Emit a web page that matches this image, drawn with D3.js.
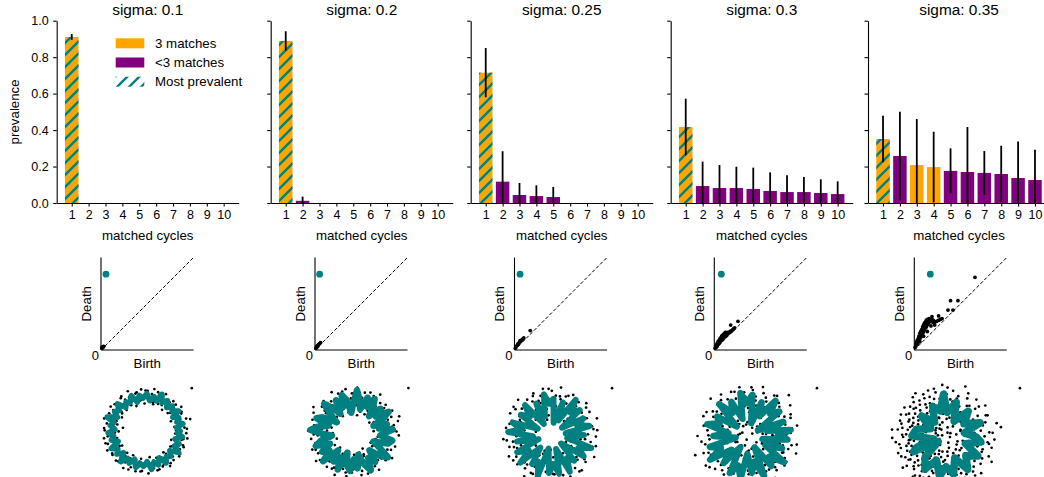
<!DOCTYPE html>
<html>
<head>
<meta charset="utf-8">
<script src="https://cdn.jsdelivr.net/npm/d3@7"></script>
<style>
  body { margin: 0; background: #fff; }
  text { font-family: "Liberation Sans", Arial, sans-serif; fill: #000; }
</style>
</head>
<body>
<div id="chart"></div>
<script>
const sigmas = ["0.1", "0.2", "0.25", "0.3", "0.35"];
const cycles = [1, 2, 3, 4, 5, 6, 7, 8, 9, 10];
const prevalence = [
  [0.911, 0, 0, 0, 0, 0, 0, 0, 0, 0],
  [0.889, 0.012, 0, 0, 0, 0, 0, 0, 0, 0],
  [0.715, 0.117, 0.044, 0.038, 0.033, 0, 0, 0, 0, 0],
  [0.417, 0.093, 0.082, 0.082, 0.077, 0.066, 0.060, 0.060, 0.055, 0.049],
  [0.351, 0.258, 0.208, 0.197, 0.176, 0.170, 0.165, 0.159, 0.137, 0.126]
];
const spread = [
  [0.016, 0, 0, 0, 0, 0, 0, 0, 0, 0],
  [0.053, 0.023, 0, 0, 0, 0, 0, 0, 0, 0],
  [0.135, 0.167, 0.066, 0.059, 0.055, 0, 0, 0, 0, 0],
  [0.155, 0.134, 0.126, 0.117, 0.117, 0.102, 0.092, 0.083, 0.075, 0.070],
  [0.128, 0.243, 0.253, 0.194, 0.124, 0.247, 0.120, 0.155, 0.201, 0.166]
];
const threeMatch = [[1], [1], [1], [1], [1, 3, 4]];
const mostPrevalent = [1, 1, 1, 1, 1];
const yTicks = [0, 0.2, 0.4, 0.6, 0.8, 1.0];
const legendItems = ["3 matches", "<3 matches", "Most prevalent"];

// persistence diagrams: [birth, death] as a fraction of the axis
const diagTop = [[0.054, 0.82], [0.05, 0.82], [0.06, 0.82], [0.076, 0.82], [0.173, 0.82]];
const diagPts = [
  [[0.01,0.02],[0.02,0.03],[0.015,0.025],[0.025,0.035],[0.03,0.04],[0.01,0.03]],
  [[0.01,0.02],[0.02,0.03],[0.03,0.05],[0.04,0.06],[0.05,0.07],[0.02,0.04],[0.06,0.08],[0.03,0.04]],
  [[0.01,0.02],[0.02,0.04],[0.03,0.05],[0.04,0.06],[0.05,0.08],[0.06,0.09],[0.07,0.1],[0.08,0.11],
   [0.09,0.12],[0.1,0.13],[0.04,0.07],[0.06,0.1],[0.17,0.21]],
  [[0.01,0.02],[0.02,0.03],[0.02,0.05],[0.03,0.04],[0.03,0.07],[0.04,0.06],[0.04,0.09],[0.05,0.07],
   [0.05,0.1],[0.06,0.08],[0.06,0.12],[0.07,0.1],[0.07,0.13],[0.08,0.11],[0.08,0.15],[0.09,0.12],
   [0.09,0.16],[0.1,0.13],[0.1,0.17],[0.11,0.14],[0.11,0.18],[0.12,0.15],[0.12,0.19],[0.13,0.16],
   [0.14,0.17],[0.14,0.19],[0.15,0.18],[0.16,0.19],[0.17,0.2],[0.18,0.2],[0.19,0.21],[0.2,0.22],
   [0.21,0.23],[0.22,0.24],[0.06,0.1],[0.08,0.13],[0.13,0.18],[0.12,0.17],[0.177,0.27],[0.256,0.31]],
  [[0.01,0.03],[0.02,0.05],[0.02,0.08],[0.03,0.06],[0.03,0.1],[0.04,0.08],[0.04,0.12],[0.05,0.1],
   [0.05,0.15],[0.06,0.12],[0.06,0.18],[0.07,0.14],[0.07,0.2],[0.08,0.16],[0.08,0.22],[0.09,0.18],
   [0.09,0.25],[0.1,0.2],[0.1,0.27],[0.11,0.22],[0.11,0.29],[0.12,0.24],[0.12,0.3],[0.13,0.25],
   [0.13,0.32],[0.14,0.27],[0.14,0.33],[0.15,0.28],[0.16,0.3],[0.16,0.34],[0.17,0.31],[0.18,0.32],
   [0.19,0.33],[0.2,0.3],[0.21,0.31],[0.22,0.3],[0.24,0.31],[0.26,0.32],[0.28,0.33],[0.3,0.34],
   [0.1,0.15],[0.14,0.2],[0.18,0.26],[0.22,0.27],[0.06,0.09],
   [0.656,0.786],[0.392,0.533],[0.472,0.533],[0.364,0.432],[0.418,0.432],[0.263,0.368],[0.191,0.36],[0.206,0.321]]
];

// sampled point clouds, polar [angle in degrees, radius]
const cloudPts = [
  [[3,1.22],[8,0.86],[12,1.1],[15,1.36],[17,1.25],[21,0.8],[26,1.17],[30,0.93],[34,1.27],[39,0.84],[43,1.12],
   [47,1.2],[52,0.79],[56,1.05],[61,1.24],[65,0.88],[69,1.15],[74,0.82],[78,1.26],[83,0.95],[87,1.18],
   [92,0.81],[96,1.23],[101,0.9],[105,1.14],[110,0.78],[114,1.28],[119,0.87],[123,1.1],[127,1.21],
   [132,0.83],[136,1.16],[141,0.91],[145,1.25],[150,0.8],[154,1.19],[158,0.97],[163,1.27],[167,0.85],
   [172,0.67],[176,1.22],[181,0.79],[185,1.08],[190,1.24],[194,0.86],[199,1.17],[203,0.92],[207,1.26],
   [212,0.81],[216,1.2],[221,0.96],[225,1.23],[230,0.84],[234,1.11],[239,1.27],[243,0.8],[248,1.15],
   [252,0.89],[256,1.22],[261,0.83],[265,1.18],[270,0.94],[274,1.25],[279,0.78],[283,1.12],[287,1.21],
   [292,0.85],[296,1.16],[301,0.9],[305,1.26],[310,0.82],[314,1.19],[319,0.98],[323,1.24],[328,0.86],
   [332,1.14],[337,1.22],[341,0.8],[346,1.09],[350,1.25],[355,0.88],
   [1,0.9],[5,1.15],[10,1.0],[19,1.08],[24,0.88],[28,1.2],[33,1.02],[36,0.9],[41,1.18],[45,0.95],[50,1.1],
   [58,0.9],[63,1.14],[67,1.0],[72,1.2],[76,0.87],[80,1.1],[85,1.02],[90,1.19],[98,0.92],[103,1.17],
   [108,1.0],[116,1.1],[121,0.92],[125,1.24],[134,1.0],[139,1.2],[143,0.86],[147,1.13],[152,0.95],
   [156,1.1],[161,0.9],[169,1.16],[174,0.98],[179,1.2],[183,0.9],[188,1.12],[192,1.0],[197,1.23],
   [201,0.95],[205,1.1],[210,0.88],[214,1.18],[219,1.0],[223,0.9],[228,1.2],[232,0.95],[237,1.1],
   [241,0.92],[246,1.24],[250,1.0],[254,1.1],[259,0.92],[263,1.2],[268,1.0],[272,0.88],[277,1.15],
   [281,1.0],[285,0.9],[290,1.2],[294,1.0],[299,1.12],[303,0.95],[308,1.2],[312,0.9],[317,1.1],
   [321,1.0],[326,1.22],[330,0.9],[335,1.06],[339,1.18],[344,0.92],[348,1.14],[353,1.0],[357,1.2]],
  [[2,1.31],[5,0.62],[9,1.18],[13,0.95],[15,1.4],[19,0.7],[23,1.25],[26,0.85],[30,1.36],[33,0.58],[37,1.12],
   [41,1.3],[44,0.75],[48,1.22],[52,0.9],[55,1.42],[59,0.66],[63,1.15],[67,1.33],[70,0.8],[74,1.27],
   [78,0.55],[81,1.05],[85,1.38],[89,0.72],[92,1.2],[96,0.93],[100,1.35],[103,0.64],[107,1.1],[111,1.28],
   [114,0.78],[118,1.4],[122,0.6],[125,1.17],[129,0.88],[133,1.32],[136,0.7],[140,1.24],[144,1.02],
   [147,1.44],[151,0.57],[155,1.14],[158,0.83],[162,1.3],[166,0.68],[169,1.21],[173,0.96],[177,1.37],
   [180,0.62],[184,1.08],[188,1.29],[191,0.76],[195,1.19],[199,0.53],[202,1.34],[206,0.86],[210,1.23],
   [213,0.67],[217,1.41],[221,0.92],[224,1.16],[228,0.6],[232,1.3],[235,0.8],[239,1.26],[243,0.71],
   [246,1.39],[250,0.98],[254,1.13],[257,0.58],[261,1.33],[265,0.84],[268,1.2],[272,0.66],[276,1.43],
   [279,0.9],[283,1.18],[287,0.62],[290,1.31],[294,0.77],[298,1.24],[301,0.55],[305,1.36],[309,0.88],
   [312,1.11],[316,0.69],[320,1.28],[323,0.97],[327,1.4],[331,0.6],[334,1.15],[338,0.82],[342,1.33],
   [345,0.7],[349,1.22],[353,0.94],[357,1.38],[250,1.5],[20,1.48],
   [1,1.05],[7,0.75],[11,1.25],[17,0.9],[21,1.12],[28,0.7],[32,1.0],[39,1.2],[43,0.88],[50,1.05],[57,0.8],
   [61,1.28],[65,0.95],[72,0.68],[76,1.1],[83,0.85],[87,1.22],[94,1.05],[98,0.78],[105,1.3],[109,0.92],
   [116,1.15],[120,0.72],[127,1.05],[131,1.2],[138,0.82],[142,1.1],[149,0.95],[153,1.35],[160,0.74],
   [164,1.05],[171,1.15],[175,0.8],[182,1.2],[186,0.95],[193,0.7],[197,1.08],[204,1.25],[208,0.82],
   [215,1.0],[219,1.3],[226,0.75],[230,1.12],[237,0.9],[241,1.2],[248,0.68],[252,1.05],[259,1.22],
   [263,0.88],[270,1.1],[274,0.76],[281,1.3],[285,0.95],[292,1.05],[296,0.72],[303,1.2],[307,1.0],
   [314,0.85],[318,1.15],[325,0.7],[329,1.05],[336,1.25],[340,0.9],[347,1.1],[351,0.75],[358,1.0]],
  [[1,1.12],[4,0.68],[6,1.41],[9,0.9],[12,1.27],[14,0.55],[17,1.05],[20,1.48],[23,0.78],[25,1.2],[28,0.97],
   [31,1.36],[34,0.62],[36,1.15],[39,0.85],[42,1.44],[45,1.0],[47,0.58],[50,1.3],[53,0.92],[56,1.18],
   [58,0.7],[61,1.39],[64,1.06],[67,0.82],[69,1.25],[72,0.5],[75,1.12],[78,1.47],[80,0.88],[83,1.2],
   [86,0.66],[89,1.34],[91,0.98],[94,1.1],[97,0.6],[100,1.42],[102,0.84],[105,1.23],[108,1.02],[111,0.72],
   [113,1.37],[116,0.94],[119,1.16],[122,0.54],[124,1.29],[127,0.8],[130,1.07],[133,1.46],[135,0.65],
   [138,1.19],[141,0.9],[144,1.33],[146,0.74],[149,1.11],[152,1.4],[155,0.58],[157,0.99],[160,1.26],
   [163,0.83],[166,1.14],[168,0.47],[171,1.38],[174,0.93],[177,1.21],[179,0.69],[182,1.05],[185,1.45],
   [188,0.8],[190,1.17],[193,0.61],[196,1.31],[199,0.96],[201,1.1],[204,0.73],[207,1.43],[210,0.87],
   [212,1.24],[215,0.56],[218,1.03],[221,1.35],[223,0.79],[226,1.15],[229,0.64],[232,1.28],[234,0.95],
   [237,1.49],[240,0.71],[243,1.08],[245,1.3],[248,0.52],[251,0.91],[254,1.22],[256,1.4],[259,0.77],
   [262,1.13],[265,0.6],[267,1.32],[270,0.98],[273,1.18],[276,0.68],[278,1.45],[281,0.86],[284,1.06],
   [287,1.27],[289,0.57],[292,0.94],[295,1.39],[298,0.8],[300,1.16],[303,0.66],[306,1.24],[309,1.0],
   [311,1.42],[314,0.74],[317,1.1],[320,0.53],[322,1.33],[325,0.89],[328,1.2],[331,0.7],[333,1.47],
   [336,0.97],[339,1.13],[342,0.62],[344,1.3],[347,0.84],[350,1.22],[353,1.04],[355,0.59],[358,1.36],
   [244,1.67],
   [2,0.85],[8,1.3],[11,0.6],[16,1.2],[22,0.95],[27,0.45],[30,1.1],[38,1.35],[44,0.7],[49,1.15],[55,0.85],
   [60,0.5],[66,1.3],[70,0.95],[77,1.2],[82,0.62],[88,1.05],[93,1.4],[99,0.8],[104,0.48],[110,1.1],
   [115,1.3],[121,0.88],[126,0.6],[132,1.2],[137,0.98],[143,1.42],[148,0.7],[154,1.05],[159,0.42],
   [165,1.3],[170,0.82],[176,1.1],[181,0.58],[187,1.35],[192,0.95],[198,1.18],[203,0.5],[209,1.05],
   [214,1.38],[220,0.8],[225,0.55],[231,1.15],[236,0.9],[242,1.3],[247,0.62],[253,1.0],[258,1.45],
   [264,0.85],[269,0.45],[275,1.2],[280,0.98],[286,1.35],[291,0.68],[297,1.1],[302,0.88],[308,1.4],
   [313,0.55],[319,1.02],[324,1.25],[330,0.82],[335,0.5],[341,1.18],[346,1.4],[352,0.9],[357,0.65]],
  [[2,0.74],[4,1.3],[7,1.05],[9,0.45],[12,1.52],[15,0.88],[17,1.18],[20,0.6],[23,1.4],[25,0.97],[28,1.25],
   [31,0.35],[33,1.1],[36,1.58],[39,0.8],[41,1.2],[44,0.52],[47,1.37],[49,0.93],[52,1.15],[55,0.67],
   [57,1.46],[60,1.0],[63,0.28],[65,1.28],[68,0.85],[71,1.08],[73,1.55],[76,0.58],[79,1.22],[81,0.95],
   [84,1.4],[87,0.72],[89,1.13],[92,0.42],[95,1.33],[97,0.9],[100,1.5],[103,1.03],[105,0.63],[108,1.19],
   [111,1.43],[113,0.78],[116,0.33],[119,1.27],[121,1.0],[124,0.55],[127,1.36],[129,0.87],[132,1.15],
   [135,1.6],[137,0.7],[140,1.05],[143,0.4],[145,1.3],[148,0.96],[151,1.2],[153,0.62],[156,1.48],
   [159,0.83],[161,1.1],[164,0.25],[167,1.38],[169,0.92],[172,1.24],[175,0.57],[177,1.02],[180,1.53],
   [183,0.76],[185,1.17],[188,0.47],[191,1.32],[193,0.98],[196,1.12],[199,0.66],[201,1.44],[204,0.86],
   [207,1.26],[209,0.37],[212,1.08],[215,1.56],[217,0.73],[220,1.19],[223,0.94],[225,1.41],[228,0.5],
   [231,1.03],[233,1.3],[236,0.81],[239,1.14],[241,0.6],[244,1.49],[247,0.9],[249,1.22],[252,0.3],
   [255,1.07],[257,1.37],[260,0.69],[263,0.99],[265,1.58],[268,0.84],[271,1.16],[273,0.44],[276,1.28],
   [279,0.95],[281,1.45],[284,0.64],[287,1.1],[289,0.88],[292,1.34],[295,0.53],[297,1.2],[300,1.02],
   [303,1.51],[305,0.75],[308,0.38],[311,1.25],[313,0.97],[316,1.13],[319,0.61],[321,1.42],[324,0.85],
   [327,1.06],[329,1.3],[332,0.48],[335,1.18],[337,0.91],[340,1.55],[343,0.71],[345,1.09],[348,1.35],
   [351,0.56],[353,1.01],[356,1.23],[358,0.8],[45,1.75],[200,1.7],[260,1.72],[300,1.68],
   [1,1.15],[6,0.55],[10,1.35],[14,0.8],[19,1.02],[22,0.3],[27,1.45],[30,0.7],[35,1.12],[38,0.92],[43,1.3],
   [46,0.4],[51,1.0],[54,1.5],[59,0.78],[62,1.18],[67,0.5],[70,1.38],[75,0.95],[78,1.1],[82,0.62],[86,1.48],
   [90,0.85],[94,1.2],[99,0.35],[102,1.05],[107,1.4],[110,0.7],[115,1.15],[118,0.9],[123,1.5],[126,0.45],
   [131,1.02],[134,1.3],[139,0.8],[142,1.2],[147,0.55],[150,1.45],[155,0.95],[158,1.1],[163,0.65],
   [166,1.35],[171,0.88],[174,0.3],[179,1.2],[182,1.0],[187,1.42],[190,0.6],[195,1.15],[198,0.85],
   [203,1.3],[206,0.42],[211,1.05],[214,0.92],[219,1.5],[222,0.7],[227,1.2],[230,0.98],[235,0.35],
   [238,1.38],[243,0.82],[246,1.1],[251,0.62],[254,1.45],[259,0.9],[262,1.22],[267,0.48],[270,1.05],
   [275,1.35],[278,0.75],[283,1.15],[286,0.4],[291,0.98],[294,1.48],[299,0.8],[302,1.2],[307,0.58],
   [310,1.35],[315,0.92],[318,1.1],[323,0.32],[326,1.4],[331,0.85],[334,1.15],[339,0.66],[342,1.28],
   [347,0.98],[350,1.5],[355,0.7],[359,1.1],[30,0.15],[150,0.2],[250,0.12]],
  [[1,1.2],[3,0.6],[5,1.45],[8,0.9],[10,1.1],[13,0.35],[15,1.62],[18,0.78],[20,1.3],[23,1.0],[25,0.52],
   [28,1.4],[30,0.85],[33,1.18],[35,0.2],[38,1.55],[40,0.95],[43,1.25],[45,0.66],[48,1.08],[50,1.48],
   [53,0.4],[55,1.15],[58,0.88],[60,1.35],[63,0.6],[65,1.02],[68,1.65],[70,0.75],[73,1.22],[75,0.3],
   [78,1.1],[80,1.42],[83,0.92],[85,0.55],[88,1.3],[90,1.0],[93,1.58],[95,0.7],[98,1.17],[100,0.45],
   [102,1.38],[104,0.97],[106,1.2],[108,0.62],[110,1.5],[112,0.83],[114,1.12],[116,0.25],[118,1.33],
   [120,0.9],[122,1.05],[124,1.6],[126,0.58],[128,1.24],[130,0.8],[132,1.42],[134,0.38],[136,1.0],
   [138,1.28],[140,0.7],[142,1.15],[144,1.52],[146,0.5],[148,0.95],[150,1.36],[152,0.65],[154,1.2],
   [156,1.05],[158,0.3],[160,1.45],[162,0.85],[164,1.1],[166,0.6],[168,1.32],[170,0.98],[172,1.62],
   [174,0.75],[176,1.18],[178,0.42],[180,1.27],[182,0.88],[184,1.05],[186,1.5],[188,0.55],[190,1.12],
   [192,0.78],[194,1.38],[196,0.33],[198,1.0],[200,1.22],[202,0.68],[204,1.45],[206,0.9],[208,1.15],
   [210,0.5],[212,1.3],[214,1.02],[216,1.58],[218,0.72],[220,1.2],[222,0.4],[224,0.95],[226,1.35],
   [228,0.62],[230,1.1],[232,1.48],[234,0.8],[236,1.25],[238,0.28],[240,1.05],[242,1.4],[244,0.7],
   [246,0.92],[248,1.3],[250,0.55],[252,1.15],[254,1.6],[256,0.85],[258,1.0],[260,0.45],[263,1.25],
   [266,0.75],[269,1.42],[272,0.98],[275,1.12],[278,0.58],[281,1.52],[284,0.88],[287,1.2],[290,0.35],
   [293,1.05],[296,1.38],[299,0.68],[302,1.15],[305,0.92],[308,1.48],[311,0.5],[314,1.25],[317,1.0],
   [320,0.78],[323,1.35],[326,0.6],[329,1.1],[332,1.6],[335,0.85],[338,1.2],[341,0.4],[344,1.02],
   [347,1.45],[350,0.72],[353,1.3],[356,0.95],[359,0.15],[265,1.78],[300,1.75],[10,1.72],
   [95,1.25],[101,0.85],[103,1.5],[107,0.6],[109,1.05],[111,1.3],[113,0.4],[115,0.95],[117,1.45],
   [119,0.7],[121,1.15],[123,0.3],[125,1.35],[127,0.9],[129,1.55],[131,0.62],[133,1.1],[135,1.25],
   [137,0.5],[139,1.4],[141,0.88],[143,1.02],[145,0.35],[147,1.3],[149,1.12],[151,0.75],[153,1.5],
   [155,0.9],[157,1.2],[159,0.55],[161,1.05],[163,1.38],[165,0.8],[167,0.22],[169,1.15],[171,1.45],
   [173,0.68],[175,1.0],[177,1.3],[179,0.85],[181,1.6],[183,0.5],[185,1.1],[187,0.95],[189,1.4],
   [191,0.62],[193,1.2],[195,1.05],[197,0.4],[199,1.5],[201,0.88],[203,1.15],[205,0.7],[207,1.35],
   [209,1.0],[211,0.3],[213,1.25],[215,0.82],[217,1.45],[219,0.6],[221,1.08],[223,1.3],[225,0.5],
   [227,1.18],[229,0.95],[231,1.55],[233,0.72],[235,1.05],[237,1.4],[239,0.6],[241,1.2],[243,0.9],
   [245,1.5],[247,0.45],[249,1.1],[251,1.32],[253,0.78],[255,1.0],[257,1.45],[259,0.62],[261,1.18],
   [264,0.9],[267,1.55],[270,0.7],[273,1.3],[276,1.05],[279,0.45],[282,1.25],[285,1.0],[288,1.45],
   [291,0.8],[294,1.2],[297,0.55],[300,1.3],[303,1.05],[306,0.7],[309,1.35],[312,0.95],[315,1.55],
   [318,0.6],[321,1.15],[324,1.0],[327,0.42],[330,1.3],[333,0.9],[336,1.45],[339,0.7],[342,1.2],
   [345,1.0],[348,0.55],[351,1.35],[354,0.85],[357,1.5],[2,0.9],[6,1.35],[12,0.7],[17,1.2],[22,0.5],
   [27,1.45],[32,1.0],[37,0.65],[42,1.38],[47,0.85],[52,1.2],[57,0.55],[62,1.5],[67,0.95],[72,1.3],
   [77,0.6],[82,1.15],[87,1.5],[92,0.8],[150,0.1],[60,0.15],[300,0.2],[200,0.18]]
];
// representative cycle vertices, polar [angle, radius]
const cyclePts = [
  [[0,1.02],[6,0.92],[11,1.12],[16,0.96],[22,1.05],[27,0.9],[31,1.14],[37,0.98],[43,1.08],[48,0.93],
   [54,1.1],[60,0.97],[66,1.18],[70,0.94],[76,1.04],[82,0.9],[88,1.1],[94,0.97],[100,1.06],[106,0.88],
   [112,1.12],[118,0.95],[124,1.03],[130,0.9],[136,1.15],[142,0.98],[148,1.07],[154,0.92],[160,1.2],
   [165,0.96],[171,1.05],[177,0.9],[183,1.1],[189,0.95],[195,1.04],[201,0.86],[207,1.13],[213,0.97],
   [219,1.08],[225,0.91],[231,1.16],[237,0.96],[243,1.06],[249,0.89],[255,1.11],[261,0.97],[267,1.04],
   [273,0.9],[279,1.14],[285,0.95],[291,1.07],[297,0.88],[303,1.12],[309,0.97],[315,1.05],[321,0.92],
   [327,1.17],[333,0.96],[339,1.06],[345,0.9],[351,1.1],[356,0.95]],
  [[0,0.95],[5,1.2],[10,0.8],[15,1.05],[20,0.65],[26,1.0],[31,1.25],[36,0.85],[42,1.1],[47,0.7],[53,1.0],
   [58,1.22],[63,0.9],[68,1.15],[74,0.75],[80,1.05],[85,1.3],[90,0.9],[96,0.62],[101,1.0],[107,1.2],
   [112,0.85],[118,1.12],[124,0.7],[130,1.0],[135,1.25],[141,0.88],[147,0.6],[153,1.05],[158,1.2],
   [164,0.8],[170,1.1],[176,1.3],[182,0.9],[187,0.65],[193,1.0],[199,1.2],[205,0.78],[211,1.1],[217,0.9],
   [223,1.25],[229,0.7],[235,1.05],[241,0.85],[247,1.2],[253,0.62],[259,1.0],[265,1.15],[271,0.8],
   [277,1.08],[283,0.68],[289,1.0],[295,1.25],[301,0.88],[307,1.1],[313,0.72],[319,1.05],[325,1.28],
   [331,0.9],[337,0.66],[343,1.1],[349,1.2],[355,0.82]],
  [[0,1.0],[7,0.45],[13,1.2],[21,0.85],[27,1.1],[34,0.4],[41,1.15],[49,0.9],[55,1.3],[63,0.5],[70,1.05],
   [78,0.38],[86,1.1],[93,0.95],[100,1.25],[108,0.6],[115,1.05],[123,0.4],[131,1.2],[139,0.85],[146,1.1],
   [154,0.45],[162,1.22],[169,0.9],[176,1.3],[184,0.55],[191,1.05],[199,0.4],[207,1.15],[215,0.82],
   [222,1.25],[230,0.5],[237,1.05],[245,0.9],[252,1.3],[260,0.42],[267,1.15],[275,0.88],[282,1.2],
   [290,0.45],[297,1.25],[305,0.85],[312,1.05],[320,0.4],[327,1.18],[335,0.92],[342,1.28],[350,0.5]],
  [[0,0.9],[8,1.3],[15,0.6],[22,1.15],[30,0.35],[38,1.2],[45,0.95],[52,1.35],[60,0.7],[68,1.1],[76,0.4],
   [84,1.25],[92,1.0],[100,1.32],[108,0.55],[116,1.15],[124,0.85],[132,1.3],[140,0.45],[148,1.1],
   [156,0.95],[164,1.28],[172,0.6],[180,1.05],[188,0.38],[196,1.2],[204,0.9],[212,1.35],[220,0.65],
   [228,1.1],[236,0.42],[244,1.25],[252,0.95],[260,1.3],[268,0.55],[276,1.12],[284,0.8],[292,1.3],
   [300,0.4],[308,1.15],[316,0.9],[324,1.35],[332,0.6],[340,1.1],[348,0.45],[355,1.2]],
  [[0,0.95],[12,0.6],[22,1.15],[35,0.7],[48,1.05],[60,0.55],[72,1.1],[85,0.75],[92,1.3],[100,0.8],
   [112,1.0],[125,0.55],[138,0.95],[150,0.5],[165,0.9],[178,1.0],[190,0.35],[200,0.9],[205,1.05],
   [215,0.25],[225,0.85],[238,1.15],[250,0.75],[262,1.2],[272,0.9],[283,1.15],[295,0.7],[305,1.2],
   [318,0.85],[330,1.15],[342,0.65],[352,1.1]]
];
const lonePt = [[1.36, 1.26], [1.67, 1.36], [1.85, 1.42], [2.09, 1.45], [2.27, 1.48]];

// layout
const W = 1044, H = 477;
const ORANGE = "#ffa500", PURPLE = "#800080", TEAL = "#008080";
const barLeft = [56.7, 270.7, 470.7, 670.7, 868];
const barW = 182, barTop = 20.7, barBottom = 203;
const diagLeft = [101, 315, 514.5, 714.3, 914.3];
const diagSize = 92.5, diagBottom = 350;
const cloudCenter = [[145.5, 431], [353.3, 433], [551, 435], [748, 436], [945, 437]];
const cloudUnit = [34, 33, 33, 33, 33];
const cycleWidth = [5.5, 6.5, 6, 6.5, 7.5];

const svg = d3.select("#chart").append("svg")
  .attr("width", W).attr("height", H);

const pat = svg.append("defs").append("pattern")
  .attr("id", "hatch")
  .attr("patternUnits", "userSpaceOnUse")
  .attr("width", 12).attr("height", 12);
pat.append("path")
  .attr("d", "M-3,3L3,-3M0,12L12,0M9,15L15,9")
  .attr("stroke", TEAL).attr("stroke-width", 2.4);

const styleAxis = (g, size) => {
  g.selectAll("path.domain").attr("stroke", "#000").attr("stroke-width", 1.1);
  g.selectAll(".tick line").attr("stroke", "#000").attr("stroke-width", 1.1);
  g.selectAll(".tick text").attr("font-size", size).attr("font-family", null);
};

const polar = ([a, r]) => [r * Math.cos(a * Math.PI / 180), r * Math.sin(a * Math.PI / 180)];

sigmas.forEach((s, i) => {
  // ---- bar panel
  const x = d3.scaleLinear().domain([0.11, 10.89]).range([barLeft[i], barLeft[i] + barW]);
  const y = d3.scaleLinear().domain([0, 1]).range([barBottom, barTop]);
  const g = svg.append("g");

  const rows = cycles.map((c, k) => ({ c, v: prevalence[i][k], e: spread[i][k] }));
  g.selectAll("rect.bar").data(rows).join("rect")
    .attr("x", d => x(d.c - 0.4))
    .attr("width", x(0.8) - x(0))
    .attr("y", d => y(d.v))
    .attr("height", d => y(0) - y(d.v))
    .attr("fill", d => threeMatch[i].includes(d.c) ? ORANGE : PURPLE);
  g.selectAll("rect.hatch").data(rows.filter(d => d.c === mostPrevalent[i])).join("rect")
    .attr("x", d => x(d.c - 0.4))
    .attr("width", x(0.8) - x(0))
    .attr("y", d => y(d.v))
    .attr("height", d => y(0) - y(d.v))
    .attr("fill", "url(#hatch)");
  g.selectAll("line.err").data(rows.filter(d => d.e > 0)).join("line")
    .attr("x1", d => x(d.c)).attr("x2", d => x(d.c))
    .attr("y1", d => y(Math.max(0, d.v - d.e)))
    .attr("y2", d => y(d.v + d.e))
    .attr("stroke", "#000").attr("stroke-width", 1.8);

  const ya = g.append("g").attr("transform", `translate(${barLeft[i]},0)`)
    .call(d3.axisLeft(y).tickValues(yTicks).tickSizeInner(3.5).tickSizeOuter(0).tickPadding(4.5)
      .tickFormat(i === 0 ? d3.format(".1f") : () => ""));
  styleAxis(ya, 12.5);
  const xa = g.append("g").attr("transform", `translate(0,${barBottom})`)
    .call(d3.axisBottom(x).tickValues(cycles).tickSizeInner(3.5).tickSizeOuter(0).tickPadding(4)
      .tickFormat(d3.format("d")));
  styleAxis(xa, 12.5);

  g.append("text").attr("x", barLeft[i] + barW / 2).attr("y", 14.5)
    .attr("text-anchor", "middle").attr("font-size", 15.4).text("sigma: " + s);
  g.append("text").attr("x", barLeft[i] + barW / 2).attr("y", 240)
    .attr("text-anchor", "middle").attr("font-size", 13.3).text("matched cycles");

  // ---- persistence diagram
  const dx = d3.scaleLinear().domain([0, 1]).range([diagLeft[i], diagLeft[i] + diagSize]);
  const dy = d3.scaleLinear().domain([0, 1]).range([diagBottom, diagBottom - diagSize]);
  const pd = svg.append("g");
  pd.append("line").attr("x1", dx(0)).attr("y1", dy(0)).attr("x2", dx(1)).attr("y2", dy(1))
    .attr("stroke", "#000").attr("stroke-width", 1).attr("stroke-dasharray", "3.5,2");
  pd.selectAll("circle.pt").data(diagPts[i]).join("circle")
    .attr("cx", d => dx(d[0])).attr("cy", d => dy(d[1])).attr("r", 1.9).attr("fill", "#000");
  pd.append("circle").attr("cx", dx(diagTop[i][0])).attr("cy", dy(diagTop[i][1]))
    .attr("r", 3.4).attr("fill", TEAL);
  pd.append("line").attr("x1", dx(0)).attr("y1", dy(0)).attr("x2", dx(0)).attr("y2", dy(1))
    .attr("stroke", "#000").attr("stroke-width", 1.1);
  pd.append("line").attr("x1", dx(0)).attr("y1", dy(0)).attr("x2", dx(1)).attr("y2", dy(0))
    .attr("stroke", "#000").attr("stroke-width", 1.1);
  pd.append("text").attr("x", dx(0) - 2).attr("y", dy(0) + 10)
    .attr("text-anchor", "end").attr("font-size", 13).text("0");
  pd.append("text").attr("x", dx(0.5)).attr("y", 368)
    .attr("text-anchor", "middle").attr("font-size", 13.3).text("Birth");
  pd.append("text")
    .attr("transform", `translate(${dx(0) - 10.5},${dy(0.5)}) rotate(-90)`)
    .attr("text-anchor", "middle").attr("font-size", 13.3).text("Death");

  // ---- point cloud with representative cycle
  const [cx0, cy0] = cloudCenter[i], u = cloudUnit[i];
  const cx = d3.scaleLinear().domain([-1, 1]).range([cx0 - u, cx0 + u]);
  const cy = d3.scaleLinear().domain([-1, 1]).range([cy0 + u, cy0 - u]);
  const pc = svg.append("g");
  const pts = cloudPts[i].map(polar).concat([lonePt[i]]);
  pc.selectAll("circle").data(pts).join("circle")
    .attr("cx", d => cx(d[0])).attr("cy", d => cy(d[1])).attr("r", 1.35).attr("fill", "#000");
  const line = d3.line().x(d => cx(d[0])).y(d => cy(d[1])).curve(d3.curveLinearClosed);
  pc.append("path").datum(cyclePts[i].map(polar))
    .attr("d", line).attr("fill", "none").attr("stroke", TEAL)
    .attr("stroke-width", cycleWidth[i]).attr("stroke-linejoin", "round");
});

// y label
svg.append("text").attr("transform", `translate(19,${(barTop + barBottom) / 2}) rotate(-90)`)
  .attr("text-anchor", "middle").attr("font-size", 13.3).text("prevalence");

// legend
const lg = svg.append("g");
const legendFill = [ORANGE, PURPLE, "url(#hatch)"];
legendItems.forEach((t, k) => {
  const top = 38.3 + k * 19.2;
  lg.append("rect").attr("x", 115.7).attr("y", top).attr("width", 28.6).attr("height", 10)
    .attr("fill", legendFill[k]);
  lg.append("text").attr("x", 155).attr("y", top + 9.6).attr("font-size", 13.3).text(t);
});
</script>
</body>
</html>
